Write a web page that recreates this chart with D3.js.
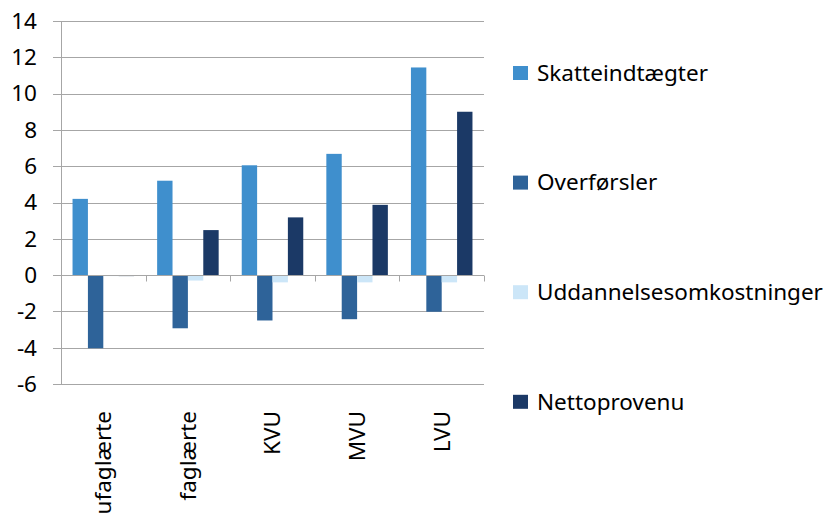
<!DOCTYPE html>
<html>
<head>
<meta charset="utf-8">
<script src="https://cdn.jsdelivr.net/npm/d3@7"></script>
<style>
  body { margin: 0; background: #fff; }
  text { font-family: "Noto Sans", "Open Sans", sans-serif; fill: #000; }
</style>
</head>
<body>
<svg id="viz"></svg>
<script>
var width = 826;
var height = 514;

var categories = ["ufaglærte", "faglærte", "KVU", "MVU", "LVU"];
var seriesNames = ["Skatteindtægter", "Overførsler", "Uddannelsesomkostninger", "Nettoprovenu"];
var seriesColors = ["#3f8fcd", "#2e6399", "#cce6f8", "#1b3966"];

var skatteindtaegter = [4.2, 5.2, 6.05, 6.68, 11.44];
var overfoersler = [-4.03, -2.93, -2.5, -2.43, -2.02];
var uddannelse = [0, -0.3, -0.4, -0.4, -0.4];
var nettoprovenu = [-0.05, 2.48, 3.18, 3.87, 9.0];

var yTicks = [-6, -4, -2, 0, 2, 4, 6, 8, 10, 12, 14];

var allSeries = [skatteindtaegter, overfoersler, uddannelse, nettoprovenu];

var svg = d3.select("#viz")
    .attr("width", width)
    .attr("height", height);

var x = d3.scaleBand()
    .domain(categories)
    .range([61, 484]);

// 150% gap width like excel
var barW = x.bandwidth() / 5.5;
var x1 = d3.scaleBand()
    .domain(d3.range(4))
    .range([barW * 0.75, barW * 4.75]);

var y = d3.scaleLinear()
    .domain([-6, 14])
    .range([384, 21]);

// gridlines
svg.append("g")
    .selectAll("line")
    .data(yTicks)
    .enter().append("line")
    .attr("x1", 53)
    .attr("x2", 484)
    .attr("y1", function(d) { return Math.round(y(d)) + 0.5; })
    .attr("y2", function(d) { return Math.round(y(d)) + 0.5; })
    .attr("stroke", "#a6a6a6")
    .attr("stroke-width", 1);

// y labels
svg.append("g")
    .selectAll("text")
    .data(yTicks)
    .enter().append("text")
    .attr("x", 37)
    .attr("y", function(d) { return y(d); })
    .attr("dy", "0.35em")
    .attr("text-anchor", "end")
    .style("font-size", "22.5px")
    .text(function(d) { return d; });

// bars
var groups = svg.append("g")
    .selectAll("g")
    .data(categories)
    .enter().append("g")
    .attr("transform", function(d) { return "translate(" + x(d) + ",0)"; });

groups.selectAll("rect")
    .data(function(d, i) {
        return allSeries.map(function(s, k) { return { k: k, v: s[i] }; });
    })
    .enter().append("rect")
    .attr("x", function(d) { return x1(d.k); })
    .attr("width", x1.bandwidth())
    .attr("y", function(d) { return y(Math.max(0, d.v)); })
    .attr("height", function(d) { return Math.max(1, Math.abs(y(d.v) - y(0))); })
    .attr("fill", function(d) { return seriesColors[d.k]; });

// y axis line
svg.append("line")
    .attr("x1", 61.5).attr("x2", 61.5)
    .attr("y1", y(14)).attr("y2", y(-6))
    .attr("stroke", "#a6a6a6");

// x axis at zero
var zeroY = Math.round(y(0)) + 0.5;
svg.append("line")
    .attr("x1", 61).attr("x2", 484)
    .attr("y1", zeroY).attr("y2", zeroY)
    .attr("stroke", "#a6a6a6");

var tickXs = categories.map(function(c) { return x(c); }).concat([484]);
svg.append("g")
    .selectAll("line")
    .data(tickXs)
    .enter().append("line")
    .attr("x1", function(d) { return Math.round(d) + 0.5; })
    .attr("x2", function(d) { return Math.round(d) + 0.5; })
    .attr("y1", zeroY)
    .attr("y2", zeroY + 6)
    .attr("stroke", "#a6a6a6");

// category labels, rotated
svg.append("g")
    .selectAll("text")
    .data(categories)
    .enter().append("text")
    .attr("transform", function(d) {
        return "translate(" + (x(d) + x.bandwidth() / 2) + ",411) rotate(-90)";
    })
    .attr("dy", "0.35em")
    .attr("text-anchor", "end")
    .style("font-size", "22.5px")
    .text(function(d) { return d; });

// legend
var legend = svg.append("g")
    .selectAll("g")
    .data(seriesNames)
    .enter().append("g")
    .attr("transform", function(d, i) { return "translate(513," + (73 + i * 109.6) + ")"; });

legend.append("rect")
    .attr("x", 0)
    .attr("y", -7)
    .attr("width", 15)
    .attr("height", 14)
    .attr("fill", function(d, i) { return seriesColors[i]; });

legend.append("text")
    .attr("x", 24)
    .attr("y", 0)
    .attr("dy", "0.35em")
    .style("font-size", "22.5px")
    .text(function(d) { return d; });
</script>
</body>
</html>
